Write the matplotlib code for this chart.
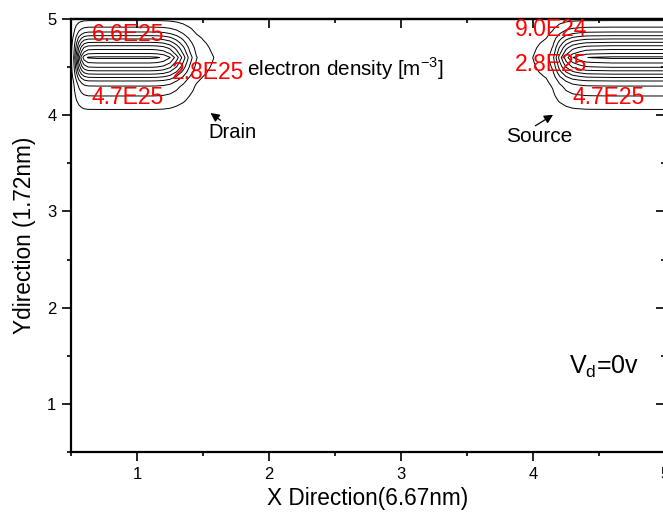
import numpy as np
import matplotlib
matplotlib.use("Agg")
import matplotlib.pyplot as plt

plt.rcParams['font.family'] = ['Liberation Sans', 'DejaVu Sans']
plt.rcParams['mathtext.fontset'] = 'custom'
plt.rcParams['mathtext.rm'] = 'Liberation Sans'

# electron density, units of 1E25 m^-3
# profile across the channel (y) shared by both contacts
y_grid = [3.80, 3.85, 3.90, 3.95, 4.00, 4.05, 4.10, 4.15, 4.20, 4.25, 4.30, 4.35, 4.40,
          4.45, 4.50, 4.55, 4.60, 4.65, 4.70, 4.75, 4.80, 4.85, 4.90, 4.95, 5.00]
n_y = [0.0, 0.0, 0.05, 0.2, 0.45, 0.8, 1.3, 2.0, 2.8, 3.7, 4.6, 6.3, 8.9,
       11.7, 14.3, 16.4, 18.4, 15.6, 13.5, 10.8, 8.1, 5.3, 3.3, 1.7, 0.5]

# relative profile along x at the drain
x_drain = [0.50, 0.52, 0.54, 0.56, 0.58, 0.60, 0.63, 0.70, 0.80, 0.90, 1.00, 1.10, 1.15,
           1.20, 1.25, 1.30, 1.35, 1.40, 1.45, 1.50, 1.55, 1.60, 1.65, 1.70]
f_drain = [0.03, 0.15, 0.40, 0.65, 0.82, 0.93, 0.99, 1.0, 1.0, 1.0, 1.0, 1.0, 0.99,
           0.96, 0.88, 0.72, 0.52, 0.31, 0.16, 0.10, 0.065, 0.04, 0.02, 0.0]

# relative profile along x at the source
x_source = [3.85, 3.90, 3.95, 4.00, 4.05, 4.10, 4.15, 4.20, 4.25, 4.30, 4.35, 4.40,
            4.45, 4.50, 4.60, 4.70, 4.80, 4.90, 5.00, 5.10]
f_source = [0.0, 0.01, 0.025, 0.05, 0.08, 0.11, 0.22, 0.50, 0.73, 0.87, 0.93, 0.975,
            0.985, 0.99, 1.0, 1.0, 1.0, 1.0, 1.0, 1.0]

levels = [0.9, 2.8, 4.7, 6.6, 8.5, 10.4, 12.3, 14.2, 16.1, 18.0]

# contour labels (text, x, y)
drain_labels = [("6.6E25", 0.93, 4.84), ("2.8E25", 1.54, 4.445), ("4.7E25", 0.93, 4.18)]
source_labels = [("9.0E24", 4.14, 4.895), ("2.8E25", 4.14, 4.53), ("4.7E25", 4.57, 4.18)]

fig = plt.figure(figsize=(6.63, 5.12), dpi=100)
ax = fig.add_axes([71 / 663, 60 / 512, 594 / 663, 433 / 512])

n_d = np.outer(n_y, f_drain) * 1e25
n_s = np.outer(n_y, f_source) * 1e25
lv = np.array(levels) * 1e25
ax.contour(x_drain, y_grid, n_d, levels=lv, colors='black', linewidths=0.7)
ax.contour(x_source, y_grid, n_s, levels=lv, colors='black', linewidths=0.7)

for t, x, y in drain_labels + source_labels:
    ax.text(x, y, t, color='red', fontsize=16.5, ha='center', va='center')

ax.text(1.83, 4.48, r'electron density [m$^{\mathregular{-3}}$]', fontsize=14.9,
        ha='left', va='center')

ax.annotate('', xy=(1.54, 4.04), xytext=(1.65, 3.93),
            arrowprops=dict(arrowstyle='-|>', color='black', lw=0.9, mutation_scale=13))
ax.text(1.54, 3.82, 'Drain', fontsize=14.5, ha='left', va='center')
ax.annotate('', xy=(4.17, 4.02), xytext=(4.0, 3.875),
            arrowprops=dict(arrowstyle='-|>', color='black', lw=0.9, mutation_scale=13))
ax.text(3.795, 3.78, 'Source', fontsize=15, ha='left', va='center')

ax.text(4.27, 1.385, r'V$_\mathregular{d}$=0v', fontsize=18, ha='left', va='center')

ax.set_xlim(0.5, 5.0)
ax.set_ylim(0.5, 5.0)
ax.set_xticks([1, 2, 3, 4, 5])
ax.set_xticks([0.5, 1.5, 2.5, 3.5, 4.5], minor=True)
ax.set_yticks([1, 2, 3, 4, 5])
ax.set_yticks([0.5, 1.5, 2.5, 3.5, 4.5], minor=True)
ax.tick_params(which='major', direction='out', length=6.5, width=1.2, labelsize=12, pad=4)
ax.tick_params(which='minor', direction='out', length=3, width=1.2)

for s in ax.spines.values():
    s.set_linewidth(1.6)

top = ax.secondary_xaxis('top')
top.set_xticks([1, 2, 3, 4, 5])
top.set_xticks([0.5, 1.5, 2.5, 3.5, 4.5], minor=True)
top.tick_params(which='major', direction='in', length=6.5, width=1.2, labeltop=False)
top.tick_params(which='minor', direction='in', length=3, width=1.2)
top.spines['top'].set_linewidth(1.6)

right = ax.secondary_yaxis('right')
right.set_yticks([1, 2, 3, 4, 5])
right.set_yticks([0.5, 1.5, 2.5, 3.5, 4.5], minor=True)
right.tick_params(which='major', direction='in', length=6.5, width=1.2, labelright=False)
right.tick_params(which='minor', direction='in', length=3, width=1.2)

ax.set_xlabel('X Direction(6.67nm)', fontsize=16.3, labelpad=4)
ax.set_ylabel('Ydirection (1.72nm)', fontsize=16.3, labelpad=8)

fig.savefig('out.png', dpi=100)
